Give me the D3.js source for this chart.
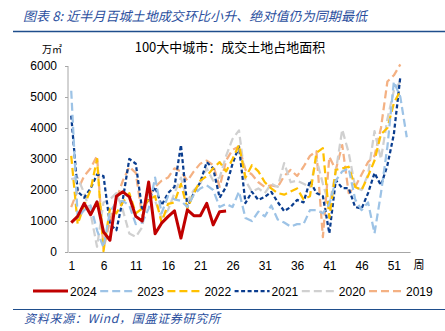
<!DOCTYPE html>
<html>
<head>
<meta charset="utf-8">
<script src="https://cdn.jsdelivr.net/npm/d3@7"></script>
<style>
  body { margin: 0; background: #fff; }
  svg { display: block; }
  .axis path, .axis line { stroke: #a6a6a6; }
  .axis text { font-family: "Liberation Sans", Arial, sans-serif; font-size: 12px; fill: #000; }
</style>
</head>
<body>
<svg id="chart"></svg>
<script>
// weekly land area sold, 100 cities (万㎡)
const years = ['2024', '2023', '2022', '2021', '2020', '2019'];
const weekTicks = [1, 6, 11, 16, 21, 26, 31, 36, 41, 46, 51];
const yTicks = [0, 1000, 2000, 3000, 4000, 5000, 6000];

const v2024 = [950, 1150, 1570, 1200, 1620, 650, 380, 1800, 1940, 1780, 1150, 1000, 2260,
  590, 930, 1140, 1330, 450, 1360, 1170, 1170, 1570, 875, 1300, 1320];
const v2023 = [5200, 1100, 1350, 1500, 700, 150, 1300, 1600, 1650, 1500, 900, 950, 1400,
  2400, 1250, 1800, 1700, 1650, 1450, 1850, 2050, 2150, 2000, 1450, 1550, 1450,
  1950, 1100, 1000, 1300, 1150, 1500, 1050, 950, 820, 900, 900, 1350, 1350,
  1250, 1550, 2300, 2600, 2700, 1700, 1350, 1600, 600, 1900, 3400, 5500, 5000, 3700];
const v2022 = [3100, 900, 1500, 2000, 3000, 30, 1400, 1250, 1600, 1900, 1250, 1400, 1700,
  1800, 950, 1550, 1600, 2200, 1400, 1900, 2300, 2450, 2700, 2900, 2600, 3000,
  3450, 2400, 2800, 2600, 2250, 2050, 1900, 1850, 1950, 2050, 1700, 1800, 3200,
  3350, 1100, 2650, 2700, 2750, 2100, 2000, 2450, 2950, 3800, 4000, 4800, 5200];
const v2021 = [4400, 1950, 1750, 2050, 2500, 2450, 900, 700, 1700, 3000, 2850, 1350, 1700,
  2100, 1500, 1900, 2100, 3450, 1450, 1900, 2250, 2900, 2700, 1750, 2100, 2850,
  3400, 1580, 1940, 1680, 1780, 1940, 1610, 1320, 1450, 1680, 1600, 2300, 1900,
  1800, 600, 2320, 2060, 2060, 1450, 1400, 1900, 2550, 2150, 2800, 3800, 5650];
const v2020 = [2350, 2400, 1900, 1250, 170, 1600, 1700, 1900, 1350, 600, 490, 800, 2000,
  1650, 1100, 1350, 1900, 2400, 1650, 2000, 2200, 2700, 2300, 2400, 3100, 3650,
  3920, 2300, 1950, 2050, 1900, 2200, 2100, 2870, 2250, 2300, 2200, 2100, 3000,
  2200, 1500, 2600, 3950, 3200, 2100, 2000, 2500, 3900, 3000, 4300, 5200, 5500];
const v2019 = [1450, 2000, 2450, 2700, 3100, 100, 1000, 1700, 2300, 2750, 2550, 1150, 1800,
  2100, 2300, 2400, 2700, 2600, 2300, 2600, 2850, 2950, 2800, 2100, 2950, 3300,
  3400, 2650, 2500, 2250, 2100, 2150, 2100, 2450, 2650, 2450, 2750, 3100, 3250,
  480, 3070, 2650, 3450, 1900, 2100, 2500, 2900, 3100, 4000, 5500, 5700, 6050];

const seriesValues = [v2024, v2023, v2022, v2021, v2020, v2019];
const colors = ['#c00000', '#9dc3e6', '#ffc000', '#0a3d8f', '#d0d0d0', '#f4b183'];
const dashes = [null, '8,4', '8,4', '4,2.5', '8,4', '8,4'];
const widths = [3, 2.25, 2.25, 2.25, 2.25, 2.25];

const W = 445, H = 331;
const svg = d3.select('#chart').attr('width', W).attr('height', H);

// header
svg.append('text')
  .attr('x', 23).attr('y', 21)
  .attr('font-family', '"Noto Sans CJK SC", sans-serif')
  .attr('font-size', 13).attr('font-style', 'italic')
  .attr('fill', '#2b4f9e')
  .attr('textLength', 344)
  .text('图表 8:  近半月百城土地成交环比小升、绝对值仍为同期最低');
svg.append('line')
  .attr('x1', 13).attr('x2', 445).attr('y1', 31.5).attr('y2', 31.5)
  .attr('stroke', '#1f4e8c').attr('stroke-width', 1.5);

svg.append('text')
  .attr('x', 230).attr('y', 52).attr('text-anchor', 'middle')
  .attr('font-family', '"Noto Sans CJK SC", sans-serif')
  .attr('font-size', 13).attr('fill', '#000')
  .text('100大中城市：成交土地占地面积');
svg.append('text')
  .attr('x', 42).attr('y', 53)
  .attr('font-family', '"Noto Sans CJK SC", sans-serif')
  .attr('font-size', 10).attr('fill', '#000')
  .text('万㎡');

// scales
const x = d3.scaleLinear().domain([0.5, 53.5]).range([68, 410]);
const y = d3.scaleLinear().domain([0, 6000]).range([252, 66]);

const gx = svg.append('g').attr('class', 'axis')
  .attr('transform', 'translate(0,252)')
  .call(d3.axisBottom(x).tickValues(weekTicks).tickSize(0).tickPadding(9).tickFormat(d3.format('d')));
gx.select('.domain').attr('stroke', '#a6a6a6');

const gy = svg.append('g').attr('class', 'axis')
  .attr('transform', 'translate(68,0)')
  .call(d3.axisLeft(y).tickValues(yTicks).tickSize(3).tickPadding(8).tickFormat(d3.format('d')));
gy.select('.domain').attr('d', 'M0,66V252');

svg.append('text')
  .attr('x', 419).attr('y', 269).attr('text-anchor', 'middle')
  .attr('font-family', '"Noto Sans CJK SC", sans-serif')
  .attr('font-size', 11).attr('fill', '#000')
  .text('周');

// lines, 2024 drawn last so it sits on top
const line = d3.line()
  .x((d, i) => x(i + 1))
  .y(d => y(d));

const order = [5, 4, 3, 2, 1, 0];
order.forEach(k => {
  svg.append('path')
    .datum(seriesValues[k])
    .attr('fill', 'none')
    .attr('stroke', colors[k])
    .attr('stroke-width', widths[k])
    .attr('stroke-dasharray', dashes[k])
    .attr('stroke-linejoin', 'round')
    .attr('d', line);
});

// legend
const legend = svg.append('g').attr('transform', 'translate(33,291)');
years.forEach((yr, k) => {
  const g = legend.append('g').attr('transform', 'translate(' + (k * 67.2) + ',0)');
  g.append('line')
    .attr('x1', 0).attr('x2', 35).attr('y1', 0).attr('y2', 0)
    .attr('stroke', colors[k])
    .attr('stroke-width', widths[k])
    .attr('stroke-dasharray', dashes[k]);
  g.append('text')
    .attr('x', 37).attr('y', 4.5)
    .attr('font-family', '"Liberation Sans", Arial, sans-serif')
    .attr('font-size', 12).attr('fill', '#000')
    .text(yr);
});

// footer
svg.append('line')
  .attr('x1', 13).attr('x2', 445).attr('y1', 309.5).attr('y2', 309.5)
  .attr('stroke', '#1f4e8c').attr('stroke-width', 1.2);
svg.append('text')
  .attr('x', 24).attr('y', 323)
  .attr('font-family', '"Noto Sans CJK SC", sans-serif')
  .attr('font-size', 12).attr('font-style', 'italic')
  .attr('fill', '#2b4f9e')
  .attr('textLength', 196)
  .text('资料来源：Wind，国盛证券研究所');
</script>
</body>
</html>
